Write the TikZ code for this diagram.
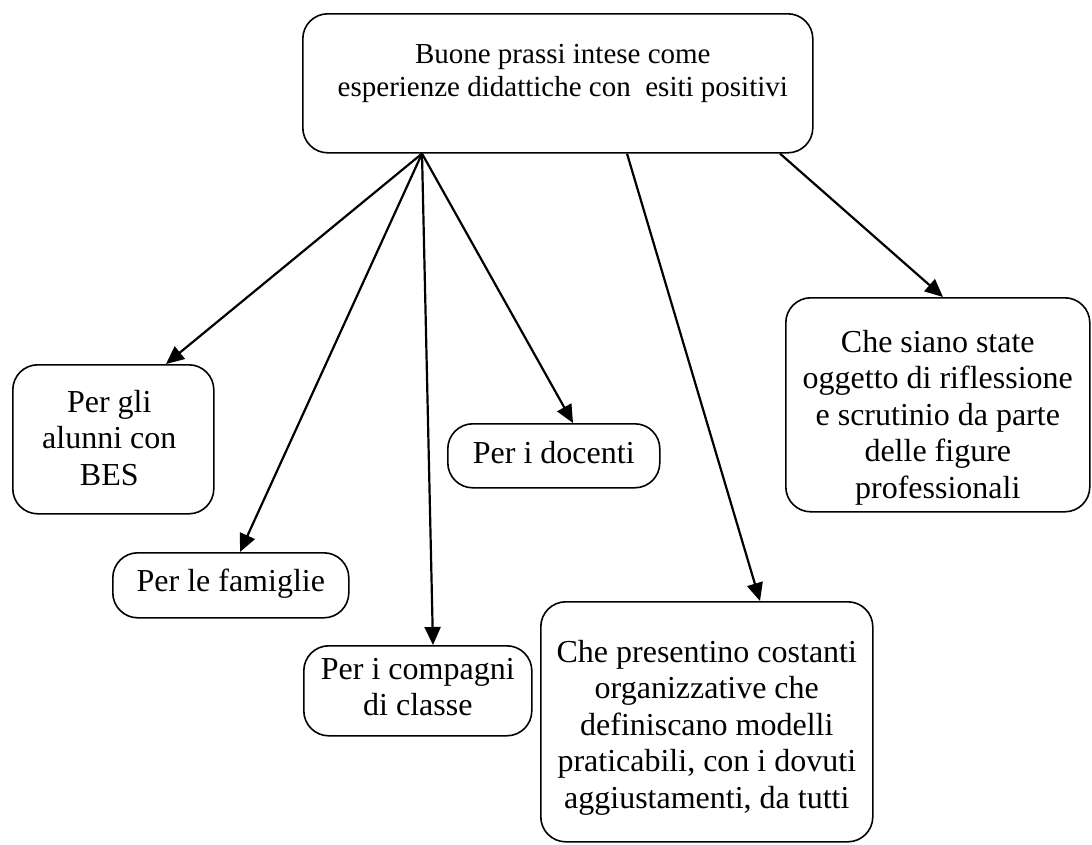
\documentclass[tikz,border=0pt]{standalone}
\usepackage{fontspec}
\setmainfont{Liberation Serif}
\usetikzlibrary{arrows.meta}
\begin{document}
\begin{tikzpicture}[x=1pt,y=-1pt,
  box/.style={draw, line width=1.6pt, rounded corners=25pt, inner sep=0pt,
    anchor=north west},
  lbl/.style={align=center, inner sep=0pt, anchor=north,
    font=\fontsize{32}{36.5}\selectfont},
  arr/.style={line width=2.2pt, -{Triangle[length=18pt,width=16pt]}}]
\useasboundingbox (0,0) rectangle (1092,844);

% boxes
\node[box, minimum width=510pt, minimum height=139pt] (top) at (302,13) {};
\node[box, minimum width=201pt, minimum height=149pt] (bes) at (12,364) {};
\node[box, minimum width=236pt, minimum height=65pt] (fam) at (112,552) {};
\node[box, minimum width=228pt, minimum height=90pt] (comp) at (303,645) {};
\node[box, minimum width=212pt, minimum height=64pt] (doc) at (447,423) {};
\node[box, minimum width=304pt, minimum height=214pt] (siano) at (785,297) {};
\node[box, minimum width=332pt, minimum height=240pt] (pres) at (540,601) {};

% texts
\node[lbl, font=\fontsize{29}{33.5}\selectfont] (toptext)
  at ([xshift=5pt,yshift=-31pt]top.north)
  {Buone prassi intese come\\esperienze didattiche con\ \ esiti positivi};
\node[lbl] (bestext) at ([xshift=-4pt,yshift=-26pt]bes.north)
  {Per gli\\alunni con\\BES};
\node[lbl] (famtext) at ([yshift=-17pt]fam.north) {Per le famiglie};
\node[lbl] (comptext) at ([yshift=-13pt]comp.north) {Per i compagni\\di classe};
\node[lbl] (doctext) at ([yshift=-18pt]doc.north) {Per i docenti};
\node[lbl] (sianotext) at ([yshift=-33pt]siano.north)
  {Che siano state\\oggetto di riflessione\\e scrutinio da parte\\delle figure\\professionali};
\node[lbl] (prestext) at ([yshift=-39pt]pres.north)
  {Che presentino costanti\\organizzative che\\definiscano modelli\\praticabili, con i dovuti\\aggiustamenti, da tutti};

% connectors
\draw[arr] ([xshift=120pt]top.south west) -- ([xshift=154pt]bes.north west);
\draw[arr] ([xshift=120pt]top.south west) -- ([xshift=128pt]fam.north west);
\draw[arr] ([xshift=120pt]top.south west) -- ([xshift=130pt]comp.north west);
\draw[arr] ([xshift=120pt]top.south west) -- ([xshift=126pt]doc.north west);
\draw[arr] ([xshift=325pt]top.south west) -- ([xshift=220pt]pres.north west);
\draw[arr] ([xshift=478pt]top.south west) -- ([xshift=158pt]siano.north west);
\end{tikzpicture}
\end{document}
